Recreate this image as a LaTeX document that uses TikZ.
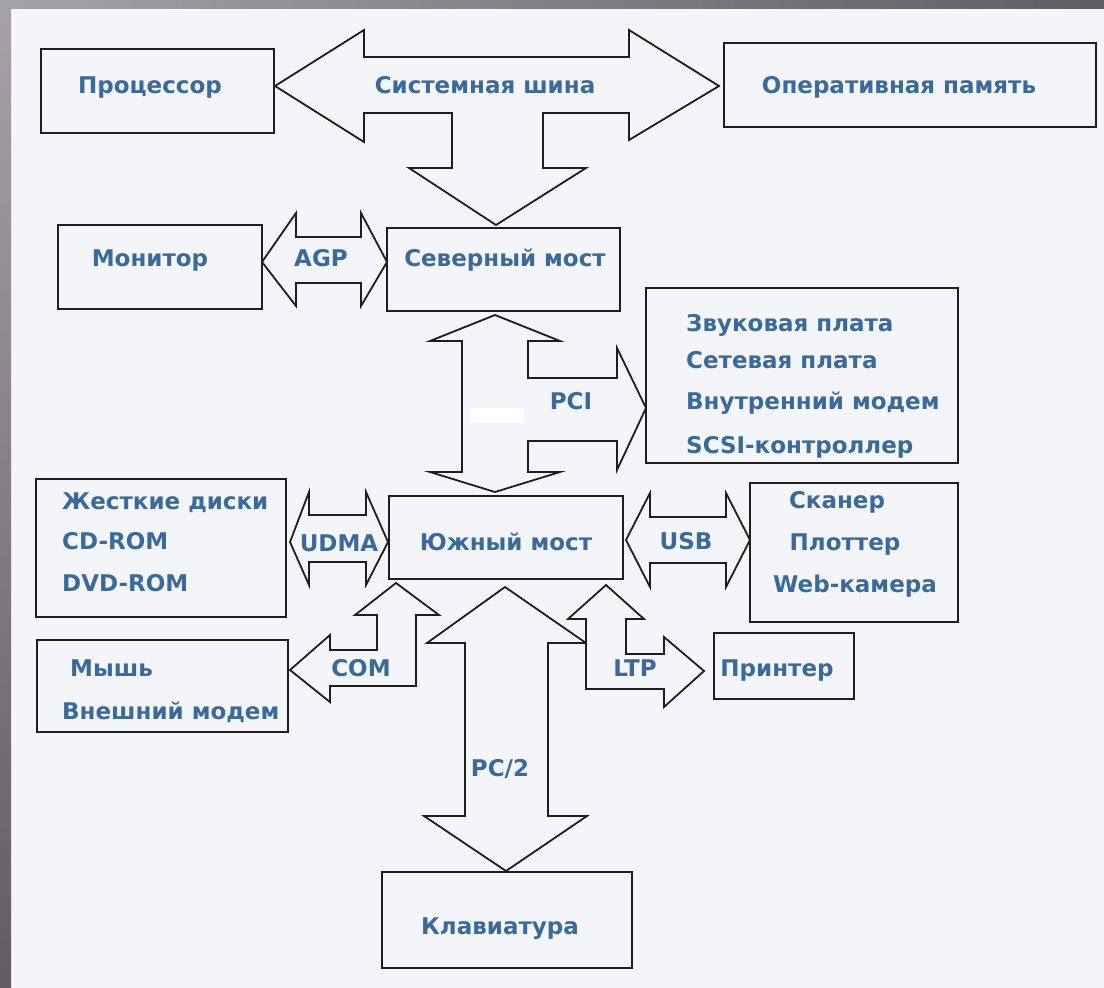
\documentclass[tikz,border=0pt]{standalone}
\usepackage{fontspec}
\newfontfamily\lab{DejaVu Sans Bold}
\definecolor{bgc}{HTML}{F3F5F9}
\definecolor{linec}{HTML}{1E1E1E}
\definecolor{txtc}{HTML}{3A6A9C}
\definecolor{bandlight}{HTML}{A6A2AA}
\definecolor{banddark}{HTML}{5F5C63}
\tikzset{
  box/.style={draw=linec, line width=1.8pt, inner sep=0pt},
  lbl/.style={text=txtc, font=\lab\fontsize{23}{27}\selectfont, inner sep=0pt, text height=17pt, text depth=5pt},
  blk/.style={draw=linec, line width=1.8pt, line join=miter, fill=bgc},
}
\begin{document}
\begin{tikzpicture}[x=1pt,y=-1pt]
\useasboundingbox (0,0) rectangle (1104,988);
\fill[bgc] (0,0) rectangle (1104,988);
\shade[top color=bandlight, bottom color=banddark] (0,0) rectangle (11,988);
\shade[left color=bandlight, right color=banddark] (0,0) rectangle (1104,8);

% boxes
\node[box, minimum width=233pt, minimum height=84pt] (cpu) at (157.5,91) {};
\node[box, minimum width=372pt, minimum height=84pt] (ram) at (910,85) {};
\node[box, minimum width=233pt, minimum height=83pt] (nb) at (503.5,269.5) {};
\node[box, minimum width=204pt, minimum height=84pt] (mon) at (160,267) {};
\node[box, minimum width=312pt, minimum height=175pt] (pcibox) at (802,375.5) {};
\node[box, minimum width=250pt, minimum height=138pt] (hdd) at (161,548) {};
\node[box, minimum width=234pt, minimum height=83pt] (sb) at (506,537.5) {};
\node[box, minimum width=208pt, minimum height=139pt] (scan) at (854,552.5) {};
\node[box, minimum width=251pt, minimum height=92pt] (mouse) at (162.5,686) {};
\node[box, minimum width=140pt, minimum height=66pt] (prn) at (784,666) {};
\node[box, minimum width=250pt, minimum height=96pt] (kbd) at (507,920) {};

% system bus
\draw[blk] (275,86) -- (364,30) -- (364,57) -- (629,57) -- (629,30) -- (719,86)
  -- (629,140) -- (629,113) -- (543,113) -- (543,168) -- (586,168) -- (496,225)
  -- (409,168) -- (452,168) -- (452,113) -- (364,113) -- (364,142) -- cycle;
% AGP
\draw[blk] (262,262) -- (296,213) -- (296,237) -- (361,237) -- (361,213) -- (387,262)
  -- (361,306) -- (361,283) -- (296,283) -- (296,306) -- cycle;
% PCI
\draw[blk] (495,315) -- (560,341) -- (528,341) -- (528,378) -- (617,378) -- (617,348)
  -- (646,408) -- (617,470) -- (617,441) -- (528,441) -- (528,472) -- (560,472)
  -- (495,492) -- (430,472) -- (462,472) -- (462,341) -- (430,341) -- cycle;
\fill[white] (471,408) rectangle (524,423);
% UDMA
\draw[blk] (290,542) -- (309,492) -- (309,515) -- (366,515) -- (366,492) -- (388,542)
  -- (366,585) -- (366,562) -- (309,562) -- (309,585) -- cycle;
% USB
\draw[blk] (626,540) -- (650,493) -- (650,517) -- (726,517) -- (726,493) -- (750,540)
  -- (726,587) -- (726,563) -- (650,563) -- (650,587) -- cycle;
% COM
\draw[blk] (396,583) -- (439,615) -- (416,615) -- (416,686) -- (330,686) -- (330,702)
  -- (290,670) -- (330,635) -- (330,650) -- (377,650) -- (377,615) -- (355,615) -- cycle;
% PS/2
\draw[blk] (505,587) -- (586,643) -- (548,643) -- (548,816) -- (587,816) -- (506,871)
  -- (424,816) -- (465,816) -- (465,643) -- (427,643) -- cycle;
% LTP
\draw[blk] (606,585) -- (644,619) -- (626,619) -- (626,654) -- (664,654) -- (664,637)
  -- (704,671) -- (664,707) -- (664,689) -- (586,689) -- (586,619) -- (568,619) -- cycle;

% labels
\node[lbl] (tcpu) at (150,87) {Процессор};
\node[lbl] (tbus) at (485,87) {Системная шина};
\node[lbl] (tram) at (899,87) {Оперативная память};
\node[lbl] (tmon) at (150,260) {Монитор};
\node[lbl] (tagp) at (321,260) {AGP};
\node[lbl] (tnb) at (505,260) {Северный мост};
\node[lbl] (tpci) at (571,403) {PCI};
\node[lbl, anchor=west] (tp1) at (686,325) {Звуковая плата};
\node[lbl, anchor=west] (tp2) at (686,362) {Сетевая плата};
\node[lbl, anchor=west] (tp3) at (686,403) {Внутренний модем};
\node[lbl, anchor=west] (tp4) at (686,447) {SCSI-контроллер};
\node[lbl, anchor=west] (th1) at (62,503) {Жесткие диски};
\node[lbl, anchor=west] (th2) at (62,543) {CD-ROM};
\node[lbl, anchor=west] (th3) at (62,585) {DVD-ROM};
\node[lbl] (tudma) at (339,545) {UDMA};
\node[lbl] (tsb) at (506,544) {Южный мост};
\node[lbl] (tusb) at (686,543) {USB};
\node[lbl] (ts1) at (837,502) {Сканер};
\node[lbl] (ts2) at (845,544) {Плоттер};
\node[lbl] (ts3) at (855,586) {Web-камера};
\node[lbl, anchor=west] (tm1) at (70,670) {Мышь};
\node[lbl, anchor=west] (tm2) at (62,713) {Внешний модем};
\node[lbl] (tcom) at (361,670) {COM};
\node[lbl] (tltp) at (635,670) {LTP};
\node[lbl] (tprn) at (777,670) {Принтер};
\node[lbl] (tps2) at (500,770) {PC/2};
\node[lbl] (tkbd) at (500,928) {Клавиатура};
\end{tikzpicture}
\end{document}
